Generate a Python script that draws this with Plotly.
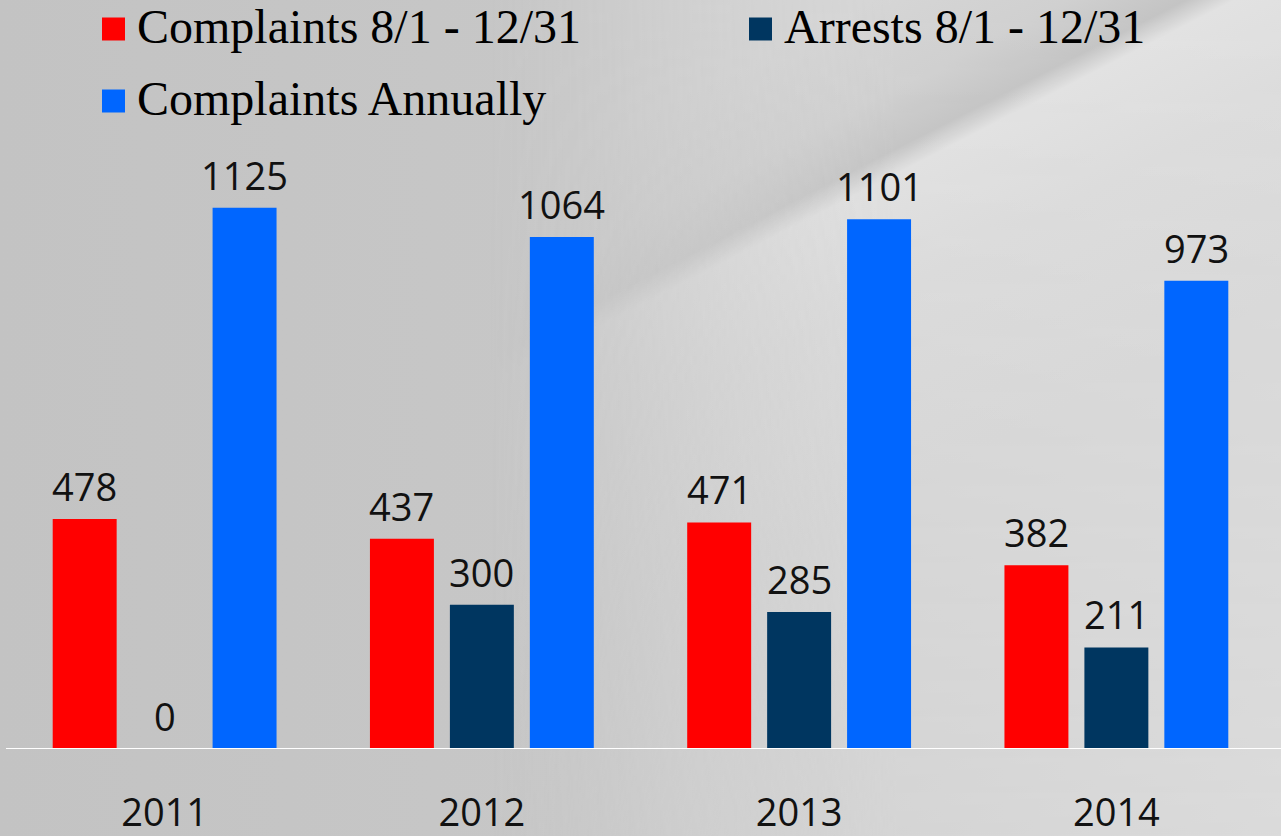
import plotly.graph_objects as go
import base64

years = ["2011", "2012", "2013", "2014"]
series_names = ["Complaints 8/1 - 12/31", "Arrests 8/1 - 12/31", "Complaints Annually"]
complaints_aug_dec = [478, 437, 471, 382]
arrests_aug_dec = [0, 300, 285, 211]
complaints_annual = [1125, 1064, 1101, 973]
series_values = [complaints_aug_dec, arrests_aug_dec, complaints_annual]
colors = ["#FF0000", "#003660", "#0066FF"]

W, H = 1281, 836
ML, MR = 6, 6
plot_top, plot_bottom = 150, 749
ymax = 1245
PW = W - ML - MR
PH = plot_bottom - plot_top

fig = go.Figure()
for name, vals, col in zip(series_names, series_values, colors):
    fig.add_trace(go.Bar(x=years, y=vals, name=name, marker_color=col,
                         marker_line_width=0, showlegend=False))

# data labels (category index positions on the category axis)
offsets = [-80, 0, 80]
annotations = []
for vals, off in zip(series_values, offsets):
    for i, v in enumerate(vals):
        annotations.append(dict(x=i, y=v, xref="x", yref="y", text=str(v),
                                showarrow=False, xshift=off, yshift=5,
                                yanchor="bottom",
                                font=dict(family="Open Sans", size=38, color="#111111")))

# manual legend (squares + labels)
legend_pos = [(102, 29), (749, 29), (102, 101)]
shapes = []
for (lx, ly), name, col in zip(legend_pos, series_names, colors):
    shapes.append(dict(type="rect", xref="paper", yref="paper",
                       x0=(lx - ML) / PW, x1=(lx + 23 - ML) / PW,
                       y0=(plot_bottom - ly - 11.5) / PH,
                       y1=(plot_bottom - ly + 11.5) / PH,
                       fillcolor=col, line_width=0, layer="above"))
    annotations.append(dict(xref="paper", yref="paper",
                            x=(lx + 33 - ML) / PW,
                            y=(plot_bottom - ly + 2) / PH,
                            text=name, showarrow=False, xanchor="left", yanchor="middle",
                            font=dict(family="Liberation Serif", size=48, color="#000000")))

# baseline
shapes.append(dict(type="line", xref="paper", yref="y", x0=0, x1=1 + MR / PW, y0=0, y1=0,
                   line=dict(color="#FFFFFF", width=2), layer="above"))

svg = f'''<svg xmlns="http://www.w3.org/2000/svg" width="{W}" height="{H}" viewBox="0 0 {W} {H}">
<defs>
<linearGradient id="base" gradientUnits="userSpaceOnUse" x1="0" y1="0" x2="{W}" y2="0">
<stop offset="0" stop-color="#c3c3c3"/>
<stop offset="0.45" stop-color="#c7c7c7"/>
<stop offset="1" stop-color="#dedede"/>
</linearGradient>
<linearGradient id="fold" gradientUnits="userSpaceOnUse" x1="831" y1="20" x2="1037" y2="421">
<stop offset="0" stop-color="#d6d6d6"/>
<stop offset="0.2" stop-color="#d0d0d0"/>
<stop offset="0.32" stop-color="#c4c4c4"/>
<stop offset="0.37" stop-color="#e2e2e2"/>
<stop offset="0.6" stop-color="#dcdcdc"/>
<stop offset="1" stop-color="#d8d8d8"/>
</linearGradient>
<linearGradient id="fade" gradientUnits="userSpaceOnUse" x1="0" y1="0" x2="{W}" y2="0">
<stop offset="0" stop-color="#ffffff" stop-opacity="0"/>
<stop offset="0.38" stop-color="#ffffff" stop-opacity="0"/>
<stop offset="0.7" stop-color="#ffffff" stop-opacity="1"/>
<stop offset="1" stop-color="#ffffff" stop-opacity="1"/>
</linearGradient>
<linearGradient id="vfade" gradientUnits="userSpaceOnUse" x1="0" y1="0" x2="0" y2="{H}">
<stop offset="0" stop-color="#ffffff" stop-opacity="1"/>
<stop offset="0.55" stop-color="#ffffff" stop-opacity="0.8"/>
<stop offset="1" stop-color="#ffffff" stop-opacity="0.55"/>
</linearGradient>
<mask id="m1">
<rect width="{W}" height="{H}" fill="url(#fade)"/>
</mask>
<mask id="m2">
<rect width="{W}" height="{H}" fill="url(#vfade)"/>
</mask>
</defs>
<rect width="{W}" height="{H}" fill="url(#base)"/>
<g mask="url(#m2)"><rect width="{W}" height="{H}" fill="url(#fold)" mask="url(#m1)"/></g>
</svg>'''
bg = "data:image/svg+xml;base64," + base64.b64encode(svg.encode()).decode()

fig.update_layout(
    width=W, height=H,
    margin=dict(l=ML, r=MR, t=plot_top, b=H - plot_bottom, pad=0, autoexpand=False),
    paper_bgcolor="#c4c4c4", plot_bgcolor="rgba(0,0,0,0)",
    barmode="group", bargap=0.244, bargroupgap=0.2,
    xaxis=dict(type="category", range=[-0.5, len(years) - 0.5],
               showgrid=False, showline=False, zeroline=False, ticks="",
               automargin=False,
               tickfont=dict(family="Open Sans", size=38, color="#111111"),
               ticklabelstandoff=38),
    yaxis=dict(range=[0, ymax], visible=False, showgrid=False, zeroline=False,
               automargin=False),
    annotations=annotations, shapes=shapes,
    images=[dict(source=bg, xref="paper", yref="paper", x=-ML / PW,
                 y=1 + plot_top / PH,
                 sizex=W / PW, sizey=H / PH,
                 sizing="stretch", layer="below", xanchor="left", yanchor="top")],
)

fig.write_html("out.html", config={"displayModeBar": False},
               post_script="document.body.style.margin='0';document.body.style.overflow='hidden';document.body.style.background='#c4c4c4';")
